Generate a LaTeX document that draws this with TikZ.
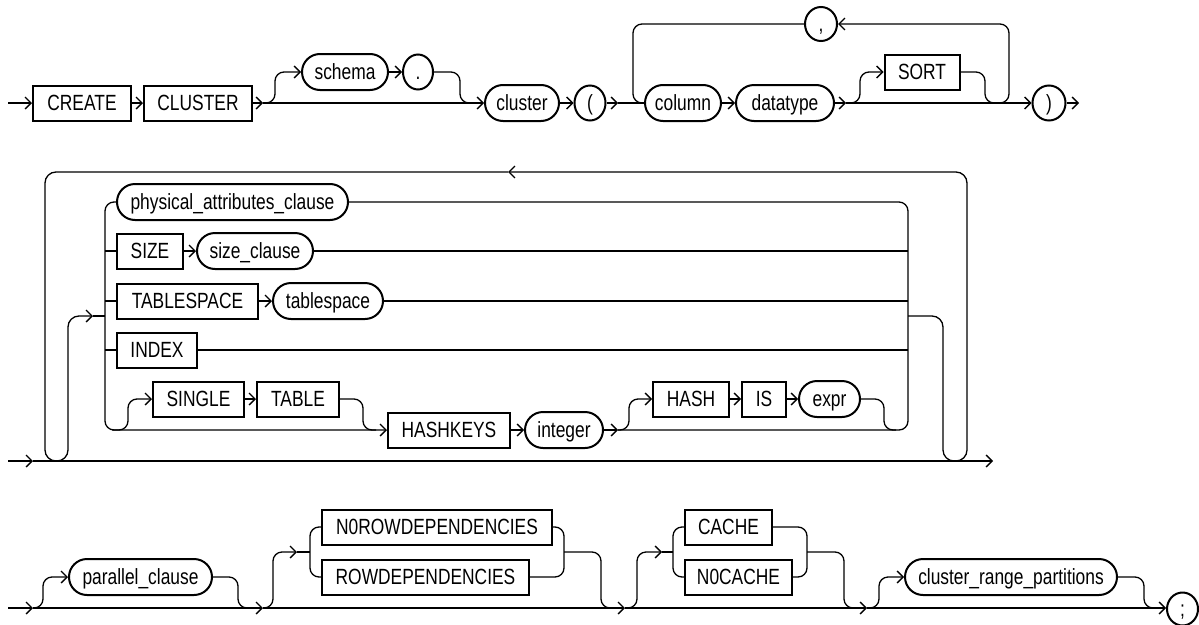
\documentclass[tikz,border=0pt]{standalone}
\usepackage{fontspec}
\newfontfamily\dfont{Liberation Sans}[FakeStretch=0.79]
\usetikzlibrary{arrows.meta,shapes.misc,shapes.geometric}
\begin{document}
\begin{tikzpicture}[x=1pt,y=-1pt,line width=1.3pt,
  lbl/.style={draw,line width=2pt,inner sep=0pt,text height=15.5pt,text depth=0pt,
    font=\dfont\fontsize{22}{26}\selectfont},
  kw/.style={lbl,rectangle,minimum height=35pt},
  nt/.style={lbl,rounded rectangle,minimum height=36pt},
  sym/.style={lbl,ellipse,minimum height=35pt,minimum width=31pt},
  arr/.style={-{Straight Barb[length=6pt,width=12pt]}},
  rc/.style={rounded corners=9pt}]
\useasboundingbox (0,0) rectangle (1199,624);

% ---------------- Row 1 ----------------
\node[kw,minimum width=98pt] (create) at (82,103) {CREATE};
\node[kw,minimum width=108pt] (clusterkw) at (198,103) {CLUSTER};
\node[nt,minimum width=86pt] (schema) at (345,72) {schema};
\node[sym,minimum width=30pt] (dot) at (418,72) {.};
\node[nt,minimum width=74pt] (cluster) at (522,103) {cluster};
\node[sym] (lparen) at (590,103) {(};
\node[nt,minimum width=76pt] (column) at (683,103) {column};
\node[nt,minimum width=98pt] (datatype) at (785,103) {datatype};
\node[kw,minimum width=75pt] (sort) at (922,72) {SORT};
\node[sym,minimum width=32pt,minimum height=34pt] (comma) at (821,24) {,};
\node[sym,minimum width=33pt] (rparen) at (1049,103) {)};

\coordinate (s1) at (8,103);
\coordinate (a1) at (263,103);
\coordinate (a2) at (618,103);
\coordinate (a3) at (846,103);
\coordinate (e1) at (1079,103);
\draw[arr] (s1) -- (create.west);
\draw[arr] (create.east) -- (clusterkw.west);
\draw[arr] (clusterkw.east) -- (a1);
\draw[arr] (a1) -- (cluster.west);
\draw[arr,rc] (a1) -| (275,72) -- (schema.west);
\draw[arr] (schema.east) -- (dot.west);
\draw[rc] (dot.east) -| (460,103) -- (472,103);
\draw[arr] (cluster.east) -- (lparen.west);
\draw[arr] (lparen.east) -- (a2);
\draw (a2) -- (column.west);
\draw[arr] (column.east) -- (datatype.west);
\draw[arr] (datatype.east) -- (a3);
\draw[arr] (a3) -- (rparen.west);
\draw[arr,rc] (a3) -| (860,72) -- (sort.west);
\draw[rc] (sort.east) -| (985,103) -- (997,103);
\draw[arr,rc] (993,103) -| (1009,24) -- (comma.east);
\draw[rc] (comma.west) -| (633,103) -- (column.west);
\draw[arr] (rparen.east) -- (e1);

% ---------------- Row 2 ----------------
\node[nt,minimum width=231pt] (pac) at (232.5,202) {physical\_attributes\_clause};
\node[kw,minimum width=66pt] (size) at (150,251) {SIZE};
\node[nt,minimum width=116pt] (sizeclause) at (255,251) {size\_clause};
\node[kw,minimum width=141pt] (tskw) at (187.5,301) {TABLESPACE};
\node[nt,minimum width=110pt] (ts) at (328,301) {tablespace};
\node[kw,minimum width=80pt] (index) at (157,350) {INDEX};
\node[kw,minimum width=91pt] (single) at (198.5,399) {SINGLE};
\node[kw,minimum width=82pt] (table) at (298,399) {TABLE};
\node[kw,minimum width=122pt] (hashkeys) at (449,430) {HASHKEYS};
\node[nt,minimum width=78pt] (integer) at (564,430) {integer};
\node[kw,minimum width=76pt] (hash) at (691,399) {HASH};
\node[kw,minimum width=44pt] (is) at (764,399) {IS};
\node[nt,minimum width=61pt] (expr) at (829.5,399) {expr};

\coordinate (s2) at (8,461);
\coordinate (a4) at (33,461);
\coordinate (e2) at (993,461);
\coordinate (busL) at (105,316);
\coordinate (busR) at (908,316);
\coordinate (a5) at (618,430);
\coordinate (top) at (508,172);
\coordinate (la) at (93,316);
\draw[arr] (s2) -- (a4);
\draw[arr] (a4) -- (e2);
\draw[arr,rc] (pac.west) -| (hashkeys.west -| busL) -- (hashkeys.west);
\draw (size.west -| busL) -- (size.west);
\draw (tskw.west -| busL) -- (tskw.west);
\draw (index.west -| busL) -- (index.west);
\draw[arr] (size.east) -- (sizeclause.west);
\draw[arr] (tskw.east) -- (ts.west);
\draw[arr,rc] (112,430) -| (128,399) -- (single.west);
\draw[arr] (single.east) -- (table.west);
\draw[rc] (table.east) -| (363,430) -- (376,430);
\draw[arr] (hashkeys.east) -- (integer.west);
\draw[arr] (integer.east) -- (a5);
\draw[arr,rc] (a5) -| (629,399) -- (hash.west);
\draw[arr] (hash.east) -- (is.west);
\draw[arr] (is.east) -- (expr.west);
\draw[rc] (expr.east) -| (884,430) -- (896,430);
\draw[rc] (a5) -| (busR |- pac.east) -- (pac.east);
\draw (sizeclause.east) -- (sizeclause.east -| busR);
\draw (ts.east) -- (ts.east -| busR);
\draw (index.east) -- (index.east -| busR);
\draw[arr,rounded corners=11pt] (busR) -- (943,316) -- (943,461) -- (967,461) -- (967,172) -- (top);
\draw[arr,rounded corners=11pt] (top) -- (45,172) -- (45,461) -- (68,461) -- (68,316) -- (la);
\draw (la) -- (busL);

% ---------------- Row 3 ----------------
\node[nt,minimum width=143pt] (parallel) at (140.5,577) {parallel\_clause};
\node[kw,minimum width=230pt] (norow) at (437,527) {N0ROWDEPENDENCIES};
\node[kw,minimum width=207pt] (rowdep) at (425.5,577) {ROWDEPENDENCIES};
\node[kw,minimum width=87pt] (cache) at (728.5,527) {CACHE};
\node[kw,minimum width=107pt] (nocache) at (738.5,577) {N0CACHE};
\node[nt,minimum width=212pt] (crp) at (1011,577) {cluster\_range\_partitions};
\node[sym,minimum width=31pt,minimum height=33pt] (semi) at (1182.5,609) {;};

\coordinate (s3) at (8,608);
\coordinate (a6) at (33,608);
\coordinate (a7) at (263,608);
\coordinate (a8) at (625,608);
\coordinate (a9) at (867,608);
\coordinate (b1) at (297,552);
\coordinate (b2) at (662,552);
\draw[arr] (s3) -- (a6);
\draw[arr] (a6) -- (a7);
\draw[arr] (a7) -- (a8);
\draw[arr] (a8) -- (a9);
\draw[arr] (a9) -- (semi.west |- a9);
\draw[arr,rc] (a6) -| (43,577) -- (parallel.west);
\draw[rc] (parallel.east) -| (238,608) -- (250,608);
\draw[arr,rc] (a7) -| (273,552) -- (b1);
\draw (b1) -- (310,552);
\draw[rc] (norow.west) -| (310,577) -- (rowdep.west);
\draw[rc] (norow.east) -| (564,577) -- (rowdep.east);
\draw[rc] (564,552) -| (601,608) -- (612,608);
\draw[arr,rc] (a8) -| (637,552) -- (b2);
\draw (b2) -- (673,552);
\draw[rc] (cache.west) -| (673,577) -- (nocache.west);
\draw[rc] (cache.east) -| (807,577) -- (nocache.east);
\draw[rc] (807,552) -| (844,608) -- (855,608);
\draw[arr,rc] (a9) -| (879,577) -- (crp.west);
\draw[rc] (crp.east) -| (1144,608) -- (1155,608);
\end{tikzpicture}
\end{document}
